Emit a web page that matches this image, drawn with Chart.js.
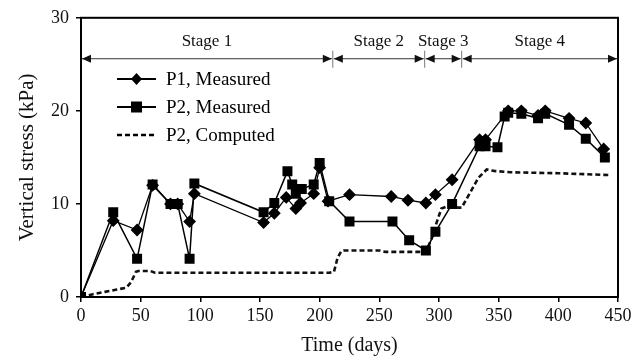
<!DOCTYPE html>
<html>
<head>
<meta charset="utf-8">
<script src="https://cdn.jsdelivr.net/npm/chart.js@4/dist/chart.umd.min.js"></script>
<style>
  html, body { margin: 0; padding: 0; background: #fff; }
  #wrap { width: 644px; height: 360px; }
</style>
</head>
<body>
<div id="wrap"><canvas id="myChart" width="644" height="360"></canvas></div>
<script>
// measured P1 (diamonds)
const p1Days = [0, 27, 47, 60, 75, 81, 91, 95, 153, 162, 172, 180, 184, 195, 200, 207, 225, 260, 274, 289, 297, 311, 334, 339, 358, 369, 383, 389, 409, 423, 438];
const p1Stress = [0, 8.2, 7.2, 12.0, 10.0, 10.0, 8.1, 11.1, 8.0, 9.0, 10.7, 9.5, 10.1, 11.1, 13.9, 10.3, 11.0, 10.8, 10.4, 10.1, 11.0, 12.6, 16.9, 16.9, 20.0, 20.0, 19.5, 20.0, 19.2, 18.7, 15.9];

// measured P2 (squares)
const p2Days = [0, 27, 47, 60, 75, 81, 91, 95, 153, 162, 173, 177, 180, 185, 195, 200, 208, 225, 261, 275, 289, 297, 311, 334, 339, 349, 355, 358, 369, 383, 389, 409, 423, 439];
const p2Stress = [0, 9.1, 4.1, 12.1, 10.0, 10.0, 4.1, 12.2, 9.1, 10.1, 13.5, 12.1, 11.1, 11.6, 12.1, 14.4, 10.3, 8.1, 8.1, 6.1, 5.0, 7.0, 10.0, 16.2, 16.2, 16.1, 19.4, 19.8, 19.7, 19.2, 19.7, 18.5, 17.0, 15.0];

// computed P2 (dashed)
const compDays = [0, 10, 20, 30, 38, 42, 46, 48, 58, 62, 208, 212, 215, 218, 220, 250, 255, 289, 293, 298, 302, 306, 316, 319, 326, 333, 340, 346, 360, 400, 443];
const compStress = [0, 0.3, 0.55, 0.8, 1.0, 1.6, 2.7, 2.8, 2.8, 2.6, 2.6, 2.7, 4.2, 4.9, 5.0, 5.0, 4.85, 4.85, 6.0, 8.0, 9.5, 9.7, 9.6, 9.6, 11.2, 12.8, 13.7, 13.55, 13.4, 13.3, 13.1];

// stages
const stageBounds = [0, 211, 288, 319, 450];
const stageNames = ['Stage 1', 'Stage 2', 'Stage 3', 'Stage 4'];

const xTicks = [0, 50, 100, 150, 200, 250, 300, 350, 400, 450];
const yTicks = [0, 10, 20, 30];

const legendItems = ['P1, Measured', 'P2, Measured', 'P2, Computed'];

const serif = '"Liberation Serif", "DejaVu Serif", serif';

function pts(xs, ys) {
    return xs.map((x, k) => ({ x: x, y: ys[k] }));
}

// frame + stage arrows + legend
const extras = {
    id: 'extras',
    afterDraw(chart) {
        const c = chart.ctx;
        const a = chart.chartArea;
        const xs = chart.scales.x;
        const ys = chart.scales.y;
        c.save();

        // box
        c.strokeStyle = '#000';
        c.lineWidth = 2;
        c.strokeRect(a.left, a.top, a.right - a.left, a.bottom - a.top);

        // stage arrows
        const ay = ys.getPixelForValue(25.6);
        const ty = ys.getPixelForValue(27.4);
        c.strokeStyle = '#333';
        c.fillStyle = '#111';
        c.lineWidth = 1;
        c.font = '17px ' + serif;
        c.textAlign = 'center';
        c.textBaseline = 'middle';
        for (let s = 0; s < stageNames.length; s++) {
            const x0 = xs.getPixelForValue(stageBounds[s]) + 1;
            const x1 = xs.getPixelForValue(stageBounds[s + 1]) - 1;
            c.beginPath();
            c.moveTo(x0, ay);
            c.lineTo(x1, ay);
            c.stroke();
            // heads
            c.beginPath();
            c.moveTo(x0, ay);
            c.lineTo(x0 + 9, ay - 4);
            c.lineTo(x0 + 9, ay + 4);
            c.closePath();
            c.fill();
            c.beginPath();
            c.moveTo(x1, ay);
            c.lineTo(x1 - 9, ay - 4);
            c.lineTo(x1 - 9, ay + 4);
            c.closePath();
            c.fill();
            c.fillText(stageNames[s], (x0 + x1) / 2, ty);
        }
        c.strokeStyle = '#777';
        for (let s = 1; s < stageBounds.length - 1; s++) {
            const bx = xs.getPixelForValue(stageBounds[s]);
            c.beginPath();
            c.moveTo(bx, ay - 8);
            c.lineTo(bx, ay + 9);
            c.stroke();
        }

        // legend
        const lx0 = 117, lx1 = 156, rowY = [79, 107, 135];
        c.fillStyle = '#000';
        c.strokeStyle = '#000';
        c.font = '19px ' + serif;
        c.textAlign = 'left';
        for (let k = 0; k < 3; k++) {
            const y = rowY[k];
            c.lineWidth = k == 2 ? 2.5 : 1.8;
            c.setLineDash(k == 2 ? [5, 3] : []);
            c.beginPath();
            c.moveTo(lx0, y);
            c.lineTo(lx1, y);
            c.stroke();
            c.setLineDash([]);
            const mx = (lx0 + lx1) / 2;
            if (k == 0) {
                c.beginPath();
                c.moveTo(mx, y - 6);
                c.lineTo(mx + 5.5, y);
                c.lineTo(mx, y + 6);
                c.lineTo(mx - 5.5, y);
                c.closePath();
                c.fill();
            } else if (k == 1) {
                c.fillRect(mx - 5.5, y - 5.5, 11, 11);
            }
            c.fillText(legendItems[k], 166, y + 1);
        }
        c.restore();
    }
};

const ctx = document.getElementById('myChart');

var chart = new Chart(ctx, {
    type: 'line',
    data: {
        datasets: [{
            label: legendItems[0],
            data: pts(p1Days, p1Stress),
            borderColor: '#000',
            backgroundColor: '#000',
            borderWidth: 1.3,
            pointStyle: 'rectRot',
            pointRadius: 5.5,
            tension: 0
        }, {
            label: legendItems[1],
            data: pts(p2Days, p2Stress),
            borderColor: '#000',
            backgroundColor: '#000',
            borderWidth: 1.5,
            pointStyle: 'rect',
            pointRadius: 6,
            tension: 0
        }, {
            label: legendItems[2],
            data: pts(compDays, compStress),
            borderColor: '#111',
            borderWidth: 2.6,
            borderDash: [5, 3],
            pointRadius: 0,
            tension: 0
        }]
    },
    options: {
        animation: false,
        responsive: false,
        layout: { padding: { top: 16, right: 26, left: 0, bottom: 0 } },
        plugins: { legend: { display: false }, tooltip: { enabled: false } },
        scales: {
            x: {
                type: 'linear',
                min: 0,
                max: 450,
                afterBuildTicks: (s) => { s.ticks = xTicks.map(v => ({ value: v })); },
                afterFit: (s) => { s.height = 63; },
                grid: { display: true, drawOnChartArea: false, drawTicks: true, tickLength: 5, color: '#000', lineWidth: 1.5 },
                border: { display: true, color: '#000', width: 2 },
                ticks: { color: '#111', font: { family: serif, size: 18 }, padding: 3, maxRotation: 0 },
                title: { display: true, text: 'Time (days)', color: '#111', font: { family: serif, size: 20 }, padding: { top: 0, bottom: 2 } }
            },
            y: {
                min: 0,
                max: 30,
                afterBuildTicks: (s) => { s.ticks = yTicks.map(v => ({ value: v })); },
                afterFit: (s) => { s.width = 81; },
                grid: { display: true, drawOnChartArea: false, drawTicks: true, tickLength: 5, color: '#000', lineWidth: 1.5 },
                border: { display: true, color: '#000', width: 2 },
                ticks: { color: '#111', font: { family: serif, size: 18 }, padding: 7 },
                title: { display: true, text: 'Vertical stress (kPa)', color: '#111', font: { family: serif, size: 21 }, padding: { top: 15, bottom: 4 } }
            }
        }
    },
    plugins: [extras]
});
</script>
</body>
</html>
